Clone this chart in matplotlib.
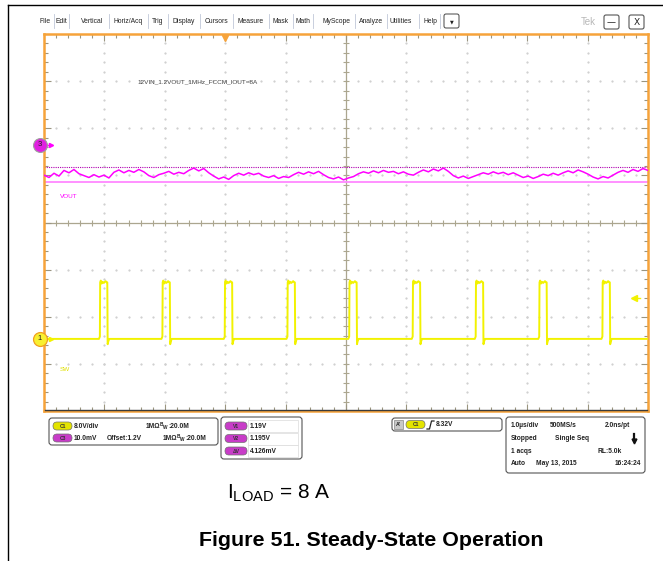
import numpy as np
import matplotlib
matplotlib.use("Agg")
import matplotlib.pyplot as plt
from matplotlib import transforms
from matplotlib.patches import FancyBboxPatch, Rectangle

plt.rcParams['font.family'] = ['Liberation Sans', 'DejaVu Sans']
plt.rcParams['mathtext.fontset'] = 'custom'
plt.rcParams['mathtext.rm'] = 'Liberation Sans'

# ---- channel 3 (VOUT), 10 mV/div, offset 1.2 V; samples in mV relative to offset
vout_mv = [
    -6.4, -6.9, -6.0, -6.6, -5.4, -5.9, -5.2, -6.1, -6.5, -6.9, -6.3, -6.8,
    -6.4, -7.0, -5.8, -5.3, -5.9, -5.4, -5.8, -5.2, -5.7, -6.5, -6.9, -6.3,
    -6.0, -5.6, -6.2, -5.8, -6.1, -5.4, -4.9, -5.5, -5.0, -5.9, -6.6, -7.2,
    -6.8, -7.3, -6.5, -6.0, -6.4, -5.9, -6.3, -6.0, -6.6, -6.9, -6.5, -7.1,
    -6.7, -6.9, -6.3, -5.8, -6.2, -5.7, -6.1, -5.6, -6.3, -6.9, -7.2, -6.8,
    -7.4, -7.0, -6.7, -6.1, -5.7, -6.0, -5.5, -5.9, -5.4, -5.8, -5.6, -6.1,
    -5.7, -6.2, -6.4, -5.8, -5.3, -5.7, -5.1, -5.5, -4.9, -5.6, -6.5, -7.0,
    -6.6, -7.1, -6.7, -6.3, -5.9, -6.2, -5.7, -6.1, -5.8, -6.3, -5.9, -6.4,
    -6.9, -6.6, -7.1, -6.7, -6.2, -6.5, -6.0, -6.4, -5.9, -5.5, -5.9, -5.3,
    -5.7, -6.2, -6.8, -7.2, -6.7, -7.0, -6.4, -5.8, -5.4, -5.8, -5.2, -5.6,
    -5.0, -5.4,
]
ch3_mv_per_div = 10.0
ch3_pos = 1.645          # divisions
cursor_v2_mv = -4.6
cursor_v1_mv = -7.8

# ---- channel 1 (SW), 8 V/div
ch1_v_per_div = 8.0
ch1_pos = -2.47
sw_rises_us = [-4.07, -3.035, -2.003, -0.965, 0.058, 1.109, 2.152, 3.204, 4.25]
pulse_t = [-0.02, -0.005, 0.0, 0.01, 0.025, 0.04, 0.06, 0.09, 0.11, 0.118, 0.124, 0.135, 0.15]
pulse_v = [0.0, 0.4, 9.6, 9.9, 9.4, 9.7, 9.5, 9.8, 9.6, 9.6, -0.9, -0.4, 0.0]
trig_time_us = -2.0
trig_marker_v = 6.9

menu_items = ["File", "Edit", "Vertical", "Horiz/Acq", "Trig", "Display", "Cursors",
              "Measure", "Mask", "Math", "MyScope", "Analyze", "Utilities", "Help"]
menu_x = [45, 61, 92, 128, 158, 184, 216.5, 251, 281, 303, 336.5, 371.5, 400.5, 430]
menu_sep = [53.5, 68.5, 109, 148, 168, 199.5, 233, 269, 293, 313, 355, 387, 418.5, 440]

cursor_labels = ["V1", "V2", "ΔV"]
cursor_values = ["1.19V", "1.195V", "4.126mV"]

YEL = '#F2F200'
MAG = '#FF00FF'
ORANGE = '#F6A33A'

fig = plt.figure(figsize=(6.63, 5.61), dpi=100)
fig.patch.set_facecolor('white')

# scope graticule axes (time in us, vertical in divisions)
ax = fig.add_axes([44 / 663, (561 - 411) / 561, 604 / 663, 377 / 561], zorder=1)
ax.set_xlim(-5, 5)
ax.set_ylim(-4, 4)
for s in ax.spines.values():
    s.set_color(ORANGE)
    s.set_linewidth(1.8)
ax.set_xticks(np.arange(-5, 5.01, 1))
ax.set_yticks(np.arange(-4, 4.01, 1))
ax.set_xticks(np.arange(-5, 5.01, 0.2), minor=True)
ax.set_yticks(np.arange(-4, 4.01, 0.2), minor=True)
ax.tick_params(which='both', direction='in', top=True, right=True,
               labelbottom=False, labelleft=False, color='#9A9580', width=0.8)
ax.tick_params(which='major', length=5)
ax.tick_params(which='minor', length=3)

# dotted grid
fine_x = np.arange(-5, 5.01, 0.2)
fine_y = np.arange(-4, 4.01, 0.2)
for gy in [-3, -2, -1, 1, 2, 3]:
    ax.plot(fine_x, np.full_like(fine_x, gy), ls='none', marker='s', ms=0.6,
            color='#D0D0D0', zorder=1)
for gx in [-4, -3, -2, -1, 1, 2, 3, 4]:
    ax.plot(np.full_like(fine_y, gx), fine_y, ls='none', marker='s', ms=0.6,
            color='#D0D0D0', zorder=1)
# centre crosshair
ax.axhline(0, color='#ABA68F', lw=0.9, zorder=1)
ax.axvline(0, color='#ABA68F', lw=0.9, zorder=1)
ax.plot(fine_x, np.zeros_like(fine_x), ls='none', marker='|', ms=4, mew=0.8,
        color='#ABA68F', zorder=1)
ax.plot(np.zeros_like(fine_y), fine_y, ls='none', marker='_', ms=4, mew=0.8,
        color='#ABA68F', zorder=1)

# cursors (channel 3)
ax.axhline(ch3_pos + cursor_v2_mv / ch3_mv_per_div, color='#B000B0', lw=0.8,
           ls=(0, (1, 1)), zorder=2)
ax.axhline(ch3_pos + cursor_v1_mv / ch3_mv_per_div, color='#FF88FF', lw=1.3, zorder=2)

# VOUT trace
t_vout = np.linspace(-5, 5, len(vout_mv))
ax.plot(t_vout, ch3_pos + np.array(vout_mv) / ch3_mv_per_div, color=MAG, lw=1.1, zorder=3)

# SW trace
sw_t = [-5.0]
sw_v = [0.0]
for r in sw_rises_us:
    sw_t += [r + pt for pt in pulse_t]
    sw_v += pulse_v
sw_t.append(5.0)
sw_v.append(0.0)
ax.plot(sw_t, ch1_pos + np.array(sw_v) / ch1_v_per_div, color=YEL, lw=1.4, zorder=3)

# ---- overlay in pixel coordinates
ov = fig.add_axes([0, 0, 1, 1], zorder=3)
ov.patch.set_alpha(0)
ov.axis('off')
yblend = transforms.blended_transform_factory(ov.transData, ax.transData)
xblend = transforms.blended_transform_factory(ax.transData, ov.transData)

# outer page frame
ov.plot([8, 8], [5, 561], color='black', lw=1.0)
ov.plot([8, 663], [5, 5], color='black', lw=1.0)

# menu bar
for name, mx in zip(menu_items, menu_x):
    ov.text(mx, 21, name, ha='center', va='center', fontsize=4.9, color='#222222')
for sx in menu_sep:
    ov.plot([sx, sx], [14, 28], color='#C0C8D8', lw=0.6)
ov.add_patch(FancyBboxPatch((444, 14), 15, 14, boxstyle="round,pad=0,rounding_size=2",
                            fc='white', ec='#444444', lw=0.7))
ov.text(451.5, 21.5, '▼', ha='center', va='center', fontsize=3.5, color='#222222',
        family='DejaVu Sans')
ov.text(588, 22, 'Tek', ha='center', va='center', fontsize=7, color='#B8B8B8')
for bx, lab in [(604, '—'), (629, 'X')]:
    ov.add_patch(FancyBboxPatch((bx, 15), 15, 14, boxstyle="round,pad=0,rounding_size=2",
                                fc='white', ec='#555555', lw=0.8))
    ov.text(bx + 7.5, 22.5, lab, ha='center', va='center', fontsize=6.5, color='#222222',
            family='DejaVu Sans')

# dark bottom graticule line
ov.plot([45, 647], [409.8, 409.8], color='#3A3A3A', lw=1.0)

# annotation text in graticule
ov.text(198, 82, '12VIN_1.2VOUT_1MHz_FCCM_IOUT=8A', ha='center', va='center',
        fontsize=4.6, color='#444444')
ov.text(60, 196, 'VOUT', ha='left', va='center', fontsize=4.6, color=MAG)
ov.text(60, 369, 'SW', ha='left', va='center', fontsize=4.6, color='#E0E000')

# channel position markers
ov.plot([44, 51], [ch3_pos, ch3_pos], color=MAG, lw=1.0, transform=yblend)
ov.plot([51], [ch3_pos], marker='>', ms=3, color=MAG, transform=yblend)
ov.plot([40], [ch3_pos], marker='o', ms=10, mfc='#E020E0', mec='#A0A0A0', mew=0.8,
        transform=yblend)
ov.text(40, ch3_pos, '3', ha='center', va='center', fontsize=5.5, color='#222222',
        transform=yblend)
ov.plot([44, 51], [ch1_pos, ch1_pos], color=YEL, lw=1.0, transform=yblend)
ov.plot([51], [ch1_pos], marker='>', ms=3, color=YEL, transform=yblend)
ov.plot([40], [ch1_pos], marker='o', ms=10, mfc='#F8F030', mec='#F0A020', mew=0.9,
        transform=yblend)
ov.text(40, ch1_pos, '1', ha='center', va='center', fontsize=5.5, color='#222222',
        transform=yblend)

# trigger position and level markers
ov.plot([trig_time_us], [37.5], marker='v', ms=5, color=ORANGE, transform=xblend)
trig_div = ch1_pos + trig_marker_v / ch1_v_per_div
ov.plot([634], [trig_div], marker='<', ms=4, color=YEL, transform=yblend)
ov.plot([634, 640], [trig_div, trig_div], color=YEL, lw=1.0, transform=yblend)


def box(x0, y0, x1, y1, ec='#555555'):
    ov.add_patch(FancyBboxPatch((x0, y0), x1 - x0, y1 - y0,
                                boxstyle="round,pad=0,rounding_size=3",
                                fc='white', ec=ec, lw=0.8))


def pill(x, y, w, h, fc, label):
    ov.add_patch(FancyBboxPatch((x, y), w, h, boxstyle=f"round,pad=0,rounding_size={h / 2}",
                                fc=fc, ec='#707070', lw=0.5))
    ov.text(x + w / 2, y + h / 2 + 0.3, label, ha='center', va='center', fontsize=3.6,
            color='#333333', fontweight='bold', family=['Liberation Sans', 'DejaVu Sans'])


def label(x, y, s, ha='left', size=4.8):
    ov.text(x, y, s, ha=ha, va='center', fontsize=size, color='#222222', fontweight='bold')


def bw(x, y):
    ov.text(x, y - 1.8, 'B', ha='left', va='center', fontsize=3.4, color='#222222',
            fontweight='bold')
    ov.text(x + 3.2, y + 1.2, 'W', ha='left', va='center', fontsize=3.4, color='#222222',
            fontweight='bold')
    label(x + 8.5, y, ':20.0M')


PILL_Y = '#E4E400'
PILL_M = '#C83CC8'

# vertical settings panel
box(49, 418, 218, 445)
pill(53, 422, 19, 8, PILL_Y, 'C1')
label(74, 426, '8.0V/div')
label(146, 426, '1MΩ')
bw(160, 426)
pill(53, 434, 19, 8, PILL_M, 'C3')
label(74, 438, '10.0mV')
label(107, 438, 'Offset:1.2V')
label(163, 438, '1MΩ')
bw(177, 438)

# cursor readout panel
box(221, 417, 302, 459)
for i, (cl, cv) in enumerate(zip(cursor_labels, cursor_values)):
    ry = 426 + i * 12.5
    pill(225, ry - 4, 22, 8, PILL_M, cl)
    ov.add_patch(Rectangle((248, ry - 6), 50, 12, fc='white', ec='#DADADA', lw=0.5))
    label(250, ry, cv)

# trigger panel
box(392, 418, 502, 431)
ov.add_patch(Rectangle((394, 420), 9, 9, fc='#C8C8C8', ec='#888888', lw=0.5))
ov.text(398.5, 424.5, "A'", ha='center', va='center', fontsize=3.8, color='#222222',
        fontweight='bold')
pill(406, 420.5, 19, 8, PILL_Y, 'C1')
ov.plot([427, 429.5, 431.5, 434], [429, 429, 421, 421], color='#222222', lw=0.9)
label(436, 424.5, '8.32V')

# horizontal / acquisition panel
box(506, 417, 645, 473)
label(511, 425, '1.0µs/div')
label(550, 425, '500MS/s')
label(630, 425, '2.0ns/pt', ha='right')
label(511, 438, 'Stopped')
label(555, 438, 'Single Seq')
ov.plot([634, 634], [434, 440], color='#111111', lw=1.6)
ov.plot([634], [441], marker='v', ms=3.5, color='#111111')
label(511, 451, '1 acqs')
label(622, 451, 'RL:5.0k', ha='right')
label(511, 463.5, 'Auto')
label(536, 463.5, 'May 13, 2015')
label(641, 463.5, '16:24:24', ha='right')

# captions
ov.text(227, 493, r'$\mathrm{I_{LOAD}}$ = 8 A', ha='left', va='center', fontsize=15,
        color='black')
ov.text(371.5, 541, 'Figure 51. Steady-State Operation', ha='center', va='center',
        fontsize=15.4, fontweight='bold', color='black')

ov.set_xlim(0, 663)
ov.set_ylim(561, 0)

fig.savefig('out.png', dpi=100)
